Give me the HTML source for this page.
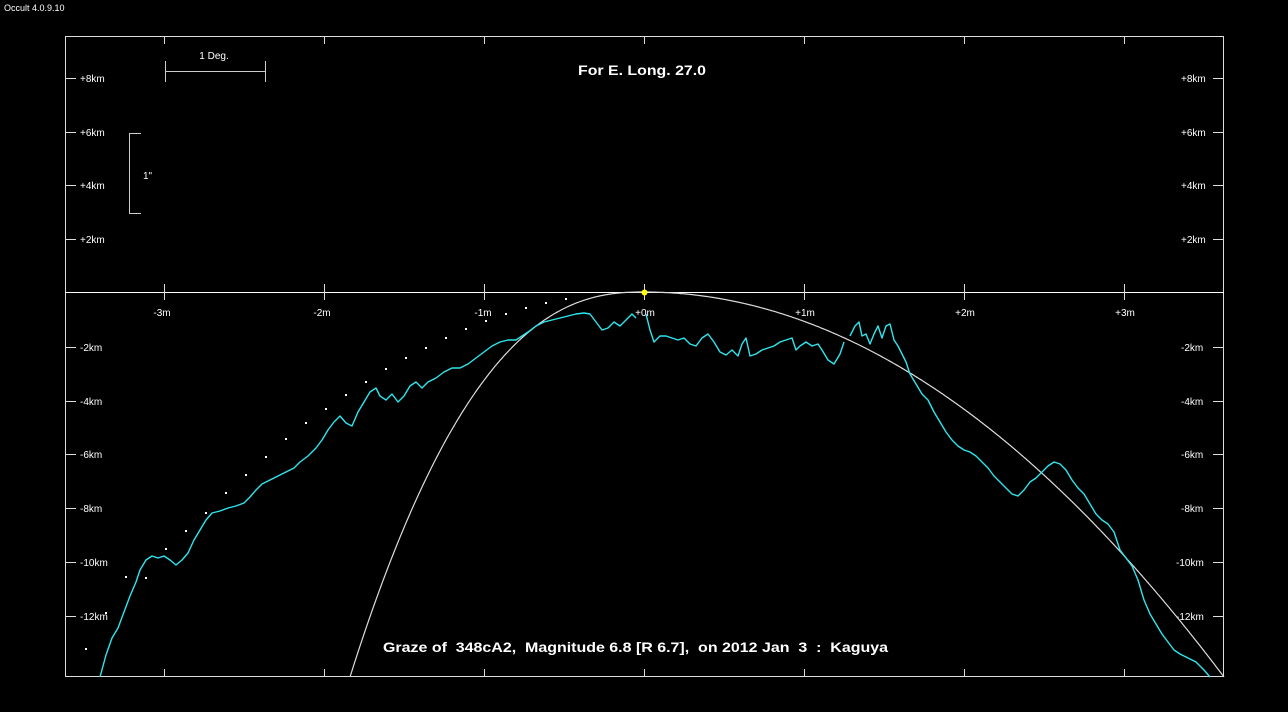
<!DOCTYPE html>
<html><head><meta charset="utf-8"><style>
html,body{margin:0;padding:0;background:#000;width:1288px;height:712px;overflow:hidden}
svg{display:block}
text{font-family:"Liberation Sans",Arial,sans-serif;fill:#fff}
</style></head><body>
<svg width="1288" height="712" viewBox="0 0 1288 712">
<rect width="1288" height="712" fill="#000"/>
<text x="4" y="11" font-size="9">Occult 4.0.9.10</text>
<rect x="65.5" y="36.5" width="1158" height="640" fill="none" stroke="#ddd" stroke-width="1"/>
<line x1="65" y1="292.5" x2="1224" y2="292.5" stroke="#fff"/>
<g stroke="#ddd">
<line x1="164.5" y1="36" x2="164.5" y2="44"/><line x1="324.5" y1="36" x2="324.5" y2="44"/><line x1="484.5" y1="36" x2="484.5" y2="44"/><line x1="644.5" y1="36" x2="644.5" y2="44"/><line x1="804.5" y1="36" x2="804.5" y2="44"/><line x1="964.5" y1="36" x2="964.5" y2="44"/><line x1="1124.5" y1="36" x2="1124.5" y2="44"/>
<line x1="164.5" y1="669" x2="164.5" y2="677"/><line x1="324.5" y1="669" x2="324.5" y2="677"/><line x1="484.5" y1="669" x2="484.5" y2="677"/><line x1="644.5" y1="669" x2="644.5" y2="677"/><line x1="804.5" y1="669" x2="804.5" y2="677"/><line x1="964.5" y1="669" x2="964.5" y2="677"/><line x1="1124.5" y1="669" x2="1124.5" y2="677"/>
<line x1="164.5" y1="284" x2="164.5" y2="300"/><line x1="324.5" y1="284" x2="324.5" y2="300"/><line x1="484.5" y1="284" x2="484.5" y2="300"/><line x1="644.5" y1="284" x2="644.5" y2="300"/><line x1="804.5" y1="284" x2="804.5" y2="300"/><line x1="964.5" y1="284" x2="964.5" y2="300"/><line x1="1124.5" y1="284" x2="1124.5" y2="300"/>
</g>
<g stroke="#ddd">
<line x1="65" y1="78.5" x2="76" y2="78.5"/><line x1="65" y1="132.5" x2="76" y2="132.5"/><line x1="65" y1="185.5" x2="76" y2="185.5"/><line x1="65" y1="239.5" x2="76" y2="239.5"/>
<line x1="65" y1="347.5" x2="76" y2="347.5"/><line x1="65" y1="401.5" x2="76" y2="401.5"/><line x1="65" y1="454.5" x2="76" y2="454.5"/><line x1="65" y1="508.5" x2="76" y2="508.5"/><line x1="65" y1="562.5" x2="76" y2="562.5"/><line x1="65" y1="616.5" x2="76" y2="616.5"/>
<line x1="1213" y1="78.5" x2="1224" y2="78.5"/><line x1="1213" y1="132.5" x2="1224" y2="132.5"/><line x1="1213" y1="185.5" x2="1224" y2="185.5"/><line x1="1213" y1="239.5" x2="1224" y2="239.5"/>
<line x1="1213" y1="347.5" x2="1224" y2="347.5"/><line x1="1213" y1="401.5" x2="1224" y2="401.5"/><line x1="1213" y1="454.5" x2="1224" y2="454.5"/><line x1="1213" y1="508.5" x2="1224" y2="508.5"/><line x1="1213" y1="562.5" x2="1224" y2="562.5"/><line x1="1213" y1="616.5" x2="1224" y2="616.5"/>
</g>
<g font-size="10">
<text x="80" y="82">+8km</text><text x="80" y="136">+6km</text><text x="80" y="189">+4km</text><text x="80" y="243">+2km</text>
<text x="80" y="351">-2km</text><text x="80" y="405">-4km</text><text x="80" y="458">-6km</text><text x="80" y="512">-8km</text><text x="80" y="566">-10km</text><text x="80" y="620">-12km</text>
<text x="1181" y="82">+8km</text><text x="1181" y="136">+6km</text><text x="1181" y="189">+4km</text><text x="1181" y="243">+2km</text>
<text x="1181" y="351">-2km</text><text x="1181" y="405">-4km</text><text x="1181" y="458">-6km</text><text x="1181" y="512">-8km</text><text x="1176" y="566">-10km</text><text x="1176" y="620">-12km</text>
</g>
<g font-size="10" text-anchor="middle">
<text x="162" y="316">-3m</text><text x="322" y="316">-2m</text><text x="483" y="316">-1m</text><text x="645" y="316">+0m</text><text x="805" y="316">+1m</text><text x="965" y="316">+2m</text><text x="1125" y="316">+3m</text>
</g>
<g stroke="#ccc" fill="none">
<path d="M165.5 61V82M265.5 61V82M165 71.5H265"/>
<path d="M141 133.5H129.5V213.5H141"/>
</g>
<text x="214" y="59" font-size="10" text-anchor="middle">1 Deg.</text>
<text x="143" y="179" font-size="10">1"</text>
<text x="578" y="75" font-size="14" font-weight="bold" textLength="128" lengthAdjust="spacingAndGlyphs">For E. Long. 27.0</text>
<text x="383" y="652" font-size="14" font-weight="bold" xml:space="preserve" style="white-space:pre" textLength="505" lengthAdjust="spacingAndGlyphs">Graze of  348cA2,  Magnitude 6.8 [R 6.7],  on 2012 Jan  3  :  Kaguya</text>
<path id="curve" fill="none" stroke="#ddd" stroke-width="1.2" d=""/>
<g fill="#fff" id="dots"></g>
<g fill="none" stroke="#2ee6ee" stroke-width="1.4" stroke-linejoin="round">
<polyline points="100,677 106,655 112,638 118,628 124,612 130,596 136,582 140,570 146,560 152,556 158,558 164,556 170,560 176,565 182,560 188,553 194,540 200,530 206,520 212,513 220,511 228,508 236,506 244,503 250,497 256,490 262,484 270,480 278,476 286,472 294,468 300,462 308,456 316,448 322,440 328,430 334,422 340,416 346,423 352,426 358,412 364,402 370,392 376,388 380,396 386,400 392,394 398,402 404,396 410,386 416,382 422,388 428,382 436,378 444,372 452,368 460,368 468,364 476,358 484,352 492,346 500,342 508,340 516,340 522,336 528,332 536,326 544,322 552,320 560,318 568,316 576,314 584,313 590,314 596,322 602,330 608,328 614,322 620,326 626,320 632,314 636,318"/>
<polyline points="646,314 650,330 654,342 660,336 666,336 672,338 678,340 684,338 690,344 696,346 702,338 708,334 714,342 720,352 726,355 732,350 738,356 742,344 746,338 750,356 756,354 762,350 768,348 774,346 780,342 786,340 792,338 796,350 800,346 806,342 812,346 818,344 822,350 828,360 834,364 840,354 844,342"/>
<polyline points="850,336 855,326 859,322 862,336 866,334 870,344 874,334 878,326 882,338 886,326 890,324 894,340 898,346 902,354 906,362 910,374 916,384 922,394 928,400 934,412 940,422 946,432 952,440 958,446 964,450 970,452 976,456 982,462 988,468 994,476 1000,482 1006,488 1012,494 1018,496 1024,490 1030,482 1036,478 1042,472 1048,466 1054,462 1060,464 1066,470 1072,480 1078,488 1084,494 1090,504 1096,514 1102,520 1108,524 1114,532 1120,550 1126,558 1132,566 1138,580 1144,600 1150,614 1156,624 1162,634 1168,642 1174,650 1180,654 1188,658 1196,662 1204,670 1210,677"/>
</g>
<circle cx="644.5" cy="292.5" r="3" fill="#ff0"/>
</svg>
<script>
(function(){
var d="M350 677";
for(var x=351;x<=644;x++){var dx=644-x;var y=292+385*Math.pow(dx/294,2.42);d+=" L"+x+" "+y.toFixed(1);}
for(var x=645;x<=1224;x++){var dx=x-644;var y=292+385*Math.pow(dx/580,2);d+=" L"+x+" "+y.toFixed(1);}
document.getElementById('curve').setAttribute('d',d);
var pts=[[85,648],[105,612],[125,576],[145,577],[165,548],[185,530],[205,512],[225,492],[245,474],[265,456],[285,438],[305,422],[325,408],[345,394],[365,381],[385,368],[405,357],[425,347],[445,337],[465,328],[485,320],[505,313],[525,307],[545,302],[565,298]];
var g=document.getElementById('dots'),s="";
pts.forEach(function(p){s+='<rect x="'+p[0]+'" y="'+p[1]+'" width="2" height="2"/>';});
g.innerHTML=s;
})();
</script>
</body></html>
